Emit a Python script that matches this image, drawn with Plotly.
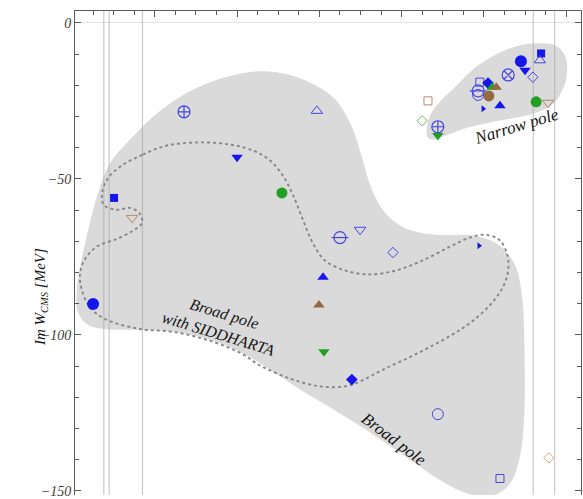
import plotly.graph_objects as go

# ---------------- data (Re W, Im W in MeV) ----------------
re_w = [1347.1, 1379.4, 1360.0, 1370.9, 1330.1, 1334.5, 1325.0, 1385.0, 1389.9, 1397.9,
        1380.9, 1379.9, 1381.1, 1387.9, 1408.8, 1418.8, 1423.9, 1435.8,
        1406.4, 1405.0, 1408.8, 1408.8, 1419.0, 1421.0, 1418.6, 1418.6, 1422.0, 1423.0,
        1421.2, 1419.8, 1423.9, 1425.9, 1429.0, 1430.0, 1431.9, 1433.9, 1433.6, 1432.7, 1435.6]
im_w = [-28.5, -28.2, -43.1, -54.5, -56.1, -62.5, -90.1, -68.8, -66.3, -73.6,
        -81.5, -90.4, -105.4, -114.3, -125.4, -71.4, -146.0, -139.4,
        -25.0, -31.4, -36.1, -33.3, -19.0, -19.3, -21.8, -23.1, -20.6, -20.6,
        -23.4, -27.5, -26.6, -16.7, -12.3, -15.2, -17.4, -9.8, -12.0, -25.3, -25.6]
kind = ["blue_circle_plus", "blue_tri_up_open", "blue_tri_down", "green_circle", "blue_square",
        "tan_tri_down_open", "blue_circle", "blue_circle_minus", "blue_tri_down_open", "blue_diamond_open",
        "blue_tri_up", "brown_tri_up", "green_tri_down", "blue_diamond", "blue_circle_open",
        "blue_tri_right", "blue_square_open", "tan_diamond_open",
        "tan_square_open", "green_diamond_open", "green_tri_down", "blue_circle_plus", "blue_square_open",
        "blue_diamond", "blue_circle_minus", "blue_circle_open", "green_tri_up", "brown_tri_up",
        "brown_circle", "blue_tri_right", "blue_tri_up", "blue_circle_x", "blue_circle", "blue_tri_down",
        "blue_diamond_open", "blue_square", "blue_tri_up_open", "green_circle", "tan_tri_down_open"]

# region outlines
broad_re = [1329.1, 1334.7, 1341.3, 1348.6, 1357.1, 1365.6, 1372.9, 1378.9, 1383.8, 1387.9, 1390.4,
            1392.8, 1396.0, 1400.8, 1408.1, 1417.8, 1423.9, 1427.6, 1429.3, 1429.8, 1429.8, 1428.8,
            1426.8, 1423.9, 1420.3, 1414.2, 1407.6, 1399.6, 1389.9, 1383.3, 1375.3, 1368.0, 1360.7,
            1352.7, 1344.4, 1336.4, 1327.9, 1323.8, 1321.3, 1321.1, 1322.3, 1324.2, 1326.2, 1329.1]
broad_im = [-45.0, -36.4, -28.2, -21.8, -17.4, -15.5, -16.7, -19.9, -24.4, -33.3, -43.4,
            -53.6, -60.9, -65.7, -67.9, -68.2, -71.4, -77.7, -87.9, -100.6, -126.0, -138.7,
            -146.7, -150.5, -151.8, -149.9, -145.1, -137.8, -129.2, -123.8, -117.5, -111.1, -105.4,
            -101.3, -99.0, -98.4, -98.1, -96.8, -92.7, -84.7, -75.2, -64.1, -54.5, -45.0]

narrow_re = [1406.2, 1406.9, 1409.3, 1412.5, 1418.3, 1425.6, 1431.9, 1437.8, 1440.0, 1440.0,
             1439.2, 1436.8, 1431.9, 1423.9, 1415.9, 1410.1, 1407.4, 1406.2]
narrow_im = [-36.4, -29.8, -25.3, -21.2, -13.9, -8.5, -6.6, -7.5, -11.7, -18.0,
             -21.2, -26.0, -29.1, -31.3, -33.6, -36.4, -37.4, -36.4]

sidd_re = [1332.0, 1337.1, 1343.0, 1351.0, 1358.3, 1363.9, 1368.0, 1371.2, 1373.6, 1376.0, 1378.5,
           1381.4, 1386.2, 1391.6, 1397.9, 1404.5, 1411.8, 1416.6, 1420.3, 1423.7, 1425.6, 1425.9,
           1424.6, 1421.5, 1416.6, 1411.8, 1403.7, 1395.5, 1389.9, 1386.2, 1380.2, 1372.9, 1365.6,
           1360.7, 1352.7, 1344.4, 1336.4, 1327.9, 1324.2, 1322.3, 1321.8, 1323.0, 1325.9, 1330.8,
           1334.7, 1336.9, 1336.4, 1334.0, 1330.8, 1327.6, 1327.2, 1328.6, 1332.0]
sidd_im = [-45.7, -42.2, -39.3, -38.3, -39.0, -40.9, -44.1, -49.1, -55.2, -63.1, -70.8,
           -76.2, -79.3, -80.6, -79.6, -76.5, -71.7, -68.8, -67.9, -69.5, -73.9, -79.3,
           -84.7, -90.4, -96.2, -100.3, -106.0, -111.1, -114.9, -116.5, -116.5, -114.0, -109.8,
           -105.7, -101.6, -99.0, -98.1, -94.9, -91.1, -85.7, -80.6, -75.8, -71.7, -69.2,
           -66.6, -64.1, -61.2, -59.3, -59.9, -58.4, -54.5, -49.8, -45.7]

thresholds = [1327.6, 1328.9, 1337.0, 1432.0, 1437.2]

x_range = [1320.6, 1443.6]
y_range = [-151.3, 3.8]
y_ticks = [0, -50, -100, -150]

# ---------------- styles ----------------
BLUE = "rgb(22,22,235)"
BLUE_O = "rgb(70,70,225)"
GREEN = "rgb(35,160,35)"
GREEN_O = "rgb(110,185,110)"
BROWN = "rgb(150,105,65)"
TAN_O = "rgb(185,135,100)"
TAN_L = "rgb(205,170,135)"

styles = {
    "blue_circle": [("circle", BLUE, 12, 0)],
    "blue_square": [("square", BLUE, 8, 0)],
    "blue_diamond": [("diamond", BLUE, 9, 0)],
    "blue_tri_up": [("triangle-up", BLUE, 10, 0)],
    "blue_tri_down": [("triangle-down", BLUE, 10, 0)],
    "blue_tri_right": [("triangle-right", BLUE, 6, 0)],
    "blue_circle_open": [("circle-open", BLUE_O, 11, 1)],
    "blue_square_open": [("square-open", BLUE_O, 8, 1)],
    "blue_diamond_open": [("diamond-open", BLUE_O, 8, 1)],
    "blue_tri_up_open": [("triangle-up-open", BLUE_O, 10, 1)],
    "blue_tri_down_open": [("triangle-down-open", BLUE_O, 10, 1)],
    "blue_circle_plus": [("circle-cross-open", BLUE_O, 12, 1.2)],
    "blue_circle_x": [("circle-x-open", BLUE_O, 12, 1.2)],
    "blue_circle_minus": [("circle-open", BLUE_O, 12, 1.2), ("line-ew-open", BLUE_O, 12, 1.2)],
    "green_circle": [("circle", GREEN, 11, 0)],
    "green_tri_up": [("triangle-up", GREEN, 10, 0)],
    "green_tri_down": [("triangle-down", GREEN, 10, 0)],
    "green_diamond_open": [("diamond-open", GREEN_O, 8, 1)],
    "brown_circle": [("circle", BROWN, 11, 0)],
    "brown_tri_up": [("triangle-up", BROWN, 10, 0)],
    "tan_tri_down_open": [("triangle-down-open", TAN_O, 10, 1)],
    "tan_square_open": [("square-open", TAN_O, 8, 1)],
    "tan_diamond_open": [("diamond-open", TAN_L, 8, 1)],
}

FILL = "rgb(218,218,218)"
SERIF = "Liberation Serif"

fig = go.Figure()

fig.add_trace(go.Scatter(x=broad_re, y=broad_im, mode="lines", line=dict(width=0, shape="spline", smoothing=1.0),
                         fill="toself", fillcolor=FILL, hoverinfo="skip", showlegend=False))
fig.add_trace(go.Scatter(x=narrow_re, y=narrow_im, mode="lines", line=dict(width=0, shape="spline", smoothing=1.0),
                         fill="toself", fillcolor=FILL, hoverinfo="skip", showlegend=False))

for t in thresholds:
    fig.add_trace(go.Scatter(x=[t, t], y=[y_range[0] - 5, y_range[1] + 5], mode="lines",
                             line=dict(color="rgba(165,165,165,0.6)", width=1.2),
                             hoverinfo="skip", showlegend=False, cliponaxis=True))

fig.add_trace(go.Scatter(x=sidd_re, y=sidd_im, mode="lines",
                         line=dict(color="rgb(135,135,135)", width=1.9, dash="3px,3px", shape="spline", smoothing=1.0),
                         hoverinfo="skip", showlegend=False))

for xr, yi, k in zip(re_w, im_w, kind):
    for sym, col, sz, lw in styles[k]:
        fig.add_trace(go.Scatter(x=[xr], y=[yi], mode="markers",
                                 marker=dict(symbol=sym, color=col, size=sz,
                                             line=dict(color=col, width=lw)),
                                 showlegend=False, cliponaxis=False))

annot_font = dict(family=SERIF, color="rgb(20,20,20)", style="italic")
fig.add_annotation(x=1427.8, y=-33.3, xref="x", yref="y", text="Narrow pole", showarrow=False,
                   textangle=-17, font=dict(size=17, **annot_font))
fig.add_annotation(x=1356.3, y=-96.5, xref="x", yref="y", text="Broad pole<br>with SIDDHARTA",
                   showarrow=False, textangle=17, font=dict(size=16, **annot_font))
fig.add_annotation(x=1398.2, y=-133.5, xref="x", yref="y", text="Broad pole", showarrow=False,
                   textangle=37, font=dict(size=17, **annot_font))
fig.add_annotation(x=-0.09, y=0.41, xref="paper", yref="paper", text="Im W<sub>CMS</sub> [MeV]",
                   showarrow=False, textangle=-90, font=dict(size=15, **annot_font))

AX = "rgb(90,90,90)"
fig.update_xaxes(range=x_range, side="top", showgrid=False, zeroline=False, showline=True,
                 linecolor=AX, linewidth=1, ticks="inside", ticklen=6, tickcolor=AX, tickwidth=1,
                 tick0=1320, dtick=20, showticklabels=False,
                 minor=dict(ticks="inside", ticklen=4, tickcolor=AX, dtick=5, tick0=1320, showgrid=False))
fig.update_yaxes(range=y_range, showgrid=False, zeroline=True, zerolinecolor="rgb(228,228,228)",
                 zerolinewidth=1.2, showline=True, linecolor=AX, linewidth=1, mirror="ticks",
                 ticks="inside", ticklen=6, tickcolor=AX, tickwidth=1,
                 tickvals=y_ticks, ticktext=["0", "\u221250", "\u2212100", "\u2212150"],
                 ticklabeloverflow="allow",
                 tickfont=dict(family=SERIF, size=14, color="rgb(60,60,60)", style="italic"),
                 minor=dict(ticks="inside", ticklen=4, tickcolor=AX, dtick=10, tick0=0, showgrid=False))

fig.update_layout(width=583, height=499, margin=dict(l=75, r=2, t=11, b=0),
                  paper_bgcolor="white", plot_bgcolor="white", showlegend=False)

fig.write_html("out.html")
